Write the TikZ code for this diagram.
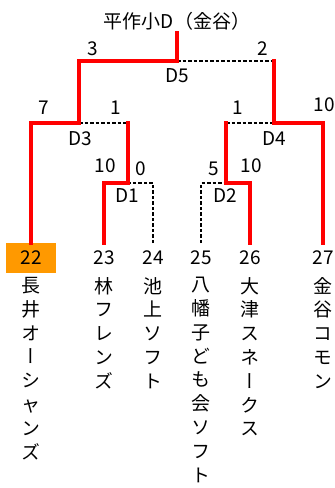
\documentclass[tikz,border=0pt]{standalone}
\usepackage{fontspec}
\setmainfont{Noto Sans CJK JP}
\newfontfamily\vjp[RawFeature=+vert]{Noto Sans CJK JP}
\definecolor{win}{RGB}{255,0,0}
\definecolor{seed}{RGB}{255,153,0}
\begin{document}
\begin{tikzpicture}[x=1pt,y=-1pt,
  winline/.style={draw=win,line width=3.6pt,line cap=rect},
  loseline/.style={draw=black,line width=1.2pt,dash pattern=on 3.5pt off 2pt},
  lbl/.style={inner sep=0pt,font=\fontsize{19}{19}\selectfont},
  teamno/.style={inner sep=0pt,font=\fontsize{19}{19}\selectfont},
  teamname/.style={inner sep=0pt,anchor=north,align=center,font=\vjp\fontsize{19}{23.8}\selectfont}]
\useasboundingbox (0,0) rectangle (335,488);
% coordinates
\coordinate (top) at (177,33);
\coordinate (c22) at (31,243);
\coordinate (c23) at (104,243);
\coordinate (c24) at (153,243);
\coordinate (c25) at (201,243);
\coordinate (c26) at (250,243);
\coordinate (c27) at (323,243);
\coordinate (d1l) at (104,183); \coordinate (d1m) at (128,183); \coordinate (d1r) at (153,183);
\coordinate (d2l) at (201,183); \coordinate (d2m) at (226,183); \coordinate (d2r) at (250,183);
\coordinate (d3l) at (31,123);  \coordinate (d3m) at (79,123);  \coordinate (d3r) at (128,123);
\coordinate (d4l) at (226,123); \coordinate (d4m) at (274,123); \coordinate (d4r) at (323,123);
\coordinate (d5l) at (79,61);   \coordinate (d5m) at (177,61);  \coordinate (d5r) at (274,61);
% seed box
\fill[seed] (6,243) rectangle (56,273);
% losing (dashed) lines
\draw[loseline] (c24) -- (d1r) -- (d1m);
\draw[loseline] (c25) -- (d2l) -- (d2m);
\draw[loseline] (d3m) -- (d3r);
\draw[loseline] (d4l) -- (d4m);
\draw[loseline] (d5m) -- (d5r);
% winning (red) lines
\draw[winline] (c22) -- (d3l) -- (d3m) -- (d5l) -- (d5m) -- (top);
\draw[winline] (c23) -- (d1l) -- (d1m) -- (d3r);
\draw[winline] (c26) -- (d2r) -- (d2m) -- (d4l);
\draw[winline] (c27) -- (d4r) -- (d4m) -- (d5r);
% title
\node[lbl] (title) at (177,21) {平作小D（金谷）};
% scores and match names
\node[lbl] (s3) at (93,49) {3};
\node[lbl] (s2) at (263,49) {2};
\node[lbl] (m5) at (177,76) {D5};
\node[lbl] (s7) at (44,108) {7};
\node[lbl] (s1a) at (116,108) {1};
\node[lbl] (s1b) at (238,108) {1};
\node[lbl] (s10a) at (324,105) {10};
\node[lbl] (m3) at (80,139) {D3};
\node[lbl] (m4) at (274,139) {D4};
\node[lbl] (s10b) at (105,166) {10};
\node[lbl] (s0) at (141,169) {0};
\node[lbl] (s5) at (214,169) {5};
\node[lbl] (s10c) at (251,166) {10};
\node[lbl] (m1) at (127,196) {D1};
\node[lbl] (m2) at (225,196) {D2};
% team numbers
\node[teamno] (n22) at (31,258) {22};
\node[teamno] (n23) at (104,258) {23};
\node[teamno] (n24) at (153,258) {24};
\node[teamno] (n25) at (201,258) {25};
\node[teamno] (n26) at (250,258) {26};
\node[teamno] (n27) at (323,258) {27};
% team names (vertical)
\node[teamname] (t22) at (31,277) {長\\井\\オ\\ー\\シ\\{\rmfamily ャ}\\ン\\ズ};
\node[teamname] (t23) at (104,277) {林\\フ\\レ\\ン\\ズ};
\node[teamname] (t24) at (153,277) {池\\上\\ソ\\フ\\ト};
\node[teamname] (t25) at (201,277) {八\\幡\\子\\ど\\も\\会\\ソ\\フ\\ト};
\node[teamname] (t26) at (250,277) {大\\津\\ス\\ネ\\ー\\ク\\ス};
\node[teamname] (t27) at (323,277) {金\\谷\\コ\\モ\\ン};
\end{tikzpicture}
\end{document}
